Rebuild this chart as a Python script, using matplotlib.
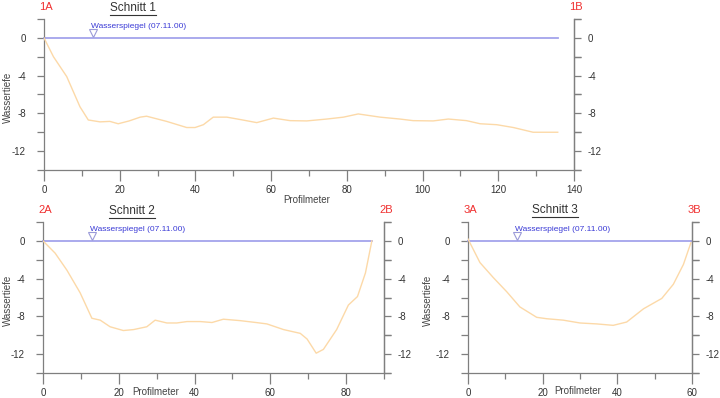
import matplotlib
matplotlib.use("Agg")
import matplotlib.pyplot as plt
from matplotlib.lines import Line2D
from matplotlib.ticker import MultipleLocator

plt.rcParams.update({"font.family": ["Liberation Sans", "DejaVu Sans"], "font.size": 7,
                     "axes.unicode_minus": False})

AXIS = "#7f7f7f"; TXT = "#333333"; RED = "#f03030"
BED = "#fcd9a8"; WATER = "#a4a4ec"; WTXT = "#3b3bd6"

# Schnitt 1 profile (Profilmeter, Wassertiefe)
s1_x = [0, 2.5, 6.0, 9.5, 11.7, 14.8, 17.4, 19.6, 22.5, 25.4, 27.1, 32.4, 37.7, 39.9,
        42.1, 44.7, 48.3, 51.8, 56.2, 60.6, 65.0, 69.4, 74.7, 79.1, 83.0, 88.8, 94.0,
        97.5, 102.8, 106.8, 111.6, 115.2, 119.6, 124.0, 129.2, 132.8, 135.7]
s1_y = [0, -2.0, -4.1, -7.3, -8.7, -8.9, -8.85, -9.1, -8.8, -8.4, -8.3, -8.85, -9.5, -9.5,
        -9.2, -8.4, -8.4, -8.65, -8.98, -8.5, -8.77, -8.8, -8.6, -8.4, -8.06, -8.4, -8.6,
        -8.77, -8.8, -8.6, -8.77, -9.1, -9.2, -9.5, -10.0, -10.0, -10.0]

# Schnitt 2 profile
s2_x = [0, 3.2, 6.3, 9.8, 12.9, 15.1, 17.7, 21.2, 23.9, 27.4, 29.6, 32.7, 35.3, 38.0,
        41.5, 44.6, 47.6, 52.0, 56.4, 59.1, 63.5, 67.9, 69.7, 72.1, 74.0, 77.5, 80.6,
        83.0, 85.1, 86.8]
s2_y = [0, -1.3, -3.1, -5.5, -8.2, -8.4, -9.1, -9.5, -9.4, -9.1, -8.4, -8.7, -8.7, -8.55,
        -8.55, -8.65, -8.3, -8.45, -8.66, -8.8, -9.4, -9.8, -10.4, -11.9, -11.5, -9.4, -6.8,
        -5.9, -3.4, 0]

# Schnitt 3 profile
s3_x = [0, 3.2, 6.8, 10.4, 13.9, 18.4, 21.1, 25.5, 30.0, 34.5, 38.9, 42.5, 47.0, 51.9,
        55.0, 57.7, 59.7]
s3_y = [0.2, -2.3, -3.9, -5.4, -7.0, -8.1, -8.25, -8.4, -8.7, -8.8, -8.95, -8.6, -7.2, -6.1,
        -4.6, -2.5, -0.2]

# water level: (start, end) per section, marker station, level
water_span = [(0, 135.7), (0, 86.8), (0, 60)]
water_mark = 13
water_level = 0
water_label = "Wasserspiegel (07.11.00)"

W, H = 720, 398
fig = plt.figure(figsize=(W / 100, H / 100), dpi=100)
fig.patch.set_facecolor("white")


def px(x, y):
    return x / W, 1 - y / H


def panel(rect, xs, ys, xmax, span, name, ends, title_xy, ylab_x, xlab_xy):
    l, t, r, b = rect
    ax = fig.add_axes([l / W, 1 - b / H, (r - l) / W, (b - t) / H])
    ax.set_xlim(0, xmax); ax.set_ylim(-14, 2)
    ax.spines["top"].set_visible(False)
    for s in ("left", "right", "bottom"):
        ax.spines[s].set_color(AXIS); ax.spines[s].set_linewidth(0.9)
    ax.xaxis.set_major_locator(MultipleLocator(20)); ax.xaxis.set_minor_locator(MultipleLocator(10))
    ax.yaxis.set_major_locator(MultipleLocator(4)); ax.yaxis.set_minor_locator(MultipleLocator(2))
    ax.tick_params(axis="x", which="major", length=8, width=0.9, color=AXIS, labelcolor=TXT, pad=3, labelsize=7)
    ax.tick_params(axis="x", which="minor", length=4, width=0.9, color=AXIS)
    ax.tick_params(axis="y", which="both", length=5, width=0.9, color=AXIS, labelcolor=TXT, pad=8, labelsize=7,
                   left=True, right=True, labelleft=True, labelright=False)
    ax.set_yticks([0, -4, -8, -12])
    ax2 = ax.twinx(); ax2.set_ylim(-14, 2)
    for s in ("left", "top", "bottom"):
        ax2.spines[s].set_visible(False)
    ax2.spines["right"].set_color(AXIS); ax2.spines["right"].set_linewidth(0.9)
    ax2.yaxis.set_major_locator(MultipleLocator(4)); ax2.yaxis.set_minor_locator(MultipleLocator(2))
    ax2.set_yticks([0, -4, -8, -12])
    ax2.tick_params(axis="y", which="both", length=5, width=0.9, color=AXIS, labelcolor=TXT, pad=5, labelsize=7)
    ax.tick_params(axis="y", which="minor", right=True)

    ax.plot(span, [water_level, water_level], color=WATER, lw=1.3, zorder=2, clip_on=False)
    ax.plot(xs, ys, color=BED, lw=1.0, zorder=3, solid_joinstyle="round")
    ax.plot([water_mark], [water_level + 0.55], marker="v", ms=6, mfc="white", mec="#9a9ad8", mew=0.8, zorder=4)
    ax.text(water_mark - 0.5, water_level + 0.85, water_label, color=WTXT, fontsize=6, ha="left", va="bottom")

    a, bb = ends
    fig.text(*px(l + 2, t - 12), a, color=RED, fontsize=8, ha="center", va="center")
    fig.text(*px(r + 2, t - 12), bb, color=RED, fontsize=8, ha="center", va="center")
    tt = fig.text(*px(*title_xy), name, color=TXT, fontsize=8.5, ha="center", va="center")
    fig.text(*px(ylab_x, (t + b) / 2 + 3), "Wassertiefe", color="#444444", fontsize=7, rotation=90,
             ha="center", va="center")
    fig.text(*px(*xlab_xy), "Profilmeter", color="#444444", fontsize=7, ha="center", va="center")
    return tt


titles = [
    panel((44, 19, 574, 170), s1_x, s1_y, 140, water_span[0], "Schnitt 1", ("1A", "1B"), (133, 8), 8, (307, 200)),
    panel((43, 222, 384, 373), s2_x, s2_y, 90, water_span[1], "Schnitt 2", ("2A", "2B"), (132, 211), 8, (156, 392)),
    panel((468, 222, 692, 373), s3_x, s3_y, 60, water_span[2], "Schnitt 3", ("3A", "3B"), (555, 210), 428, (578, 391)),
]

# underline the section titles
fig.canvas.draw()
r = fig.canvas.get_renderer()
for tt in titles:
    e = tt.get_window_extent(r)
    y0 = e.y0 - 1.0
    fig.add_artist(Line2D([e.x0 / W, e.x1 / W], [y0 / H, y0 / H], color=TXT, lw=0.8, transform=fig.transFigure))

fig.savefig("out.png", dpi=100, facecolor="white")
